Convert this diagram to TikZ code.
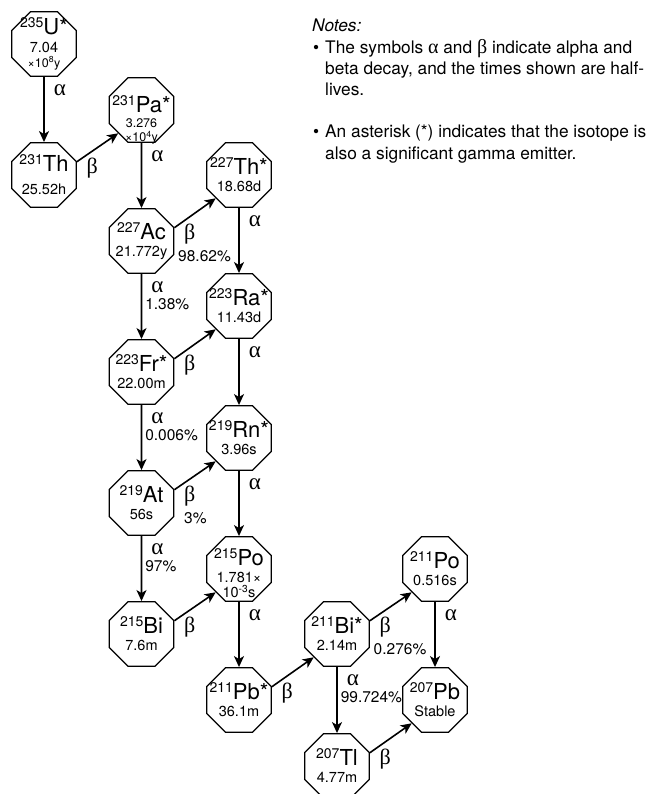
\documentclass[tikz,border=0pt]{standalone}
\usepackage{fontspec}
\setmainfont{TeX Gyre Heros}
\newfontfamily\grk{Liberation Serif}
\usetikzlibrary{arrows.meta,shapes.geometric}

\newcommand{\nuc}[2]{{\fontsize{22}{22}\selectfont\raisebox{7pt}{\fontsize{14}{14}\selectfont#1}#2}}
\newcommand{\alp}{{\grk\fontsize{23}{23}\selectfont α}}
\newcommand{\bet}{{\grk\fontsize{22}{22}\selectfont β}}
\newcommand{\sml}{\fontsize{12.5}{13}\selectfont}
\newcommand{\lift}[1]{\rule{0pt}{#1}}

\begin{document}
\begin{tikzpicture}[x=1pt,y=-1pt,
  iso/.style={draw,regular polygon,regular polygon sides=8,minimum size=70pt,
    inner sep=-14pt,line width=1.2pt,align=center,font=\fontsize{14.5}{16}\selectfont},
  decay/.style={-{Stealth[length=11pt,width=10pt,inset=3pt]},line width=1.6pt},
  lab/.style={anchor=north west,align=left,inner sep=0pt,font=\fontsize{15.5}{17}\selectfont},
  alab/.style={lab,xshift=3pt,yshift=-7pt},
  blab/.style={lab,xshift=3pt,yshift=4pt}]
\path[use as bounding box,clip] (0,0) rectangle (653,794);

% isotopes of the chain
\node[iso] (u235) at (44,44) {\nuc{235}{U*}\\[2pt] 7.04\\[-1.5pt] {\fontsize{12.5}{15}\selectfont ×10\textsuperscript{8}y}};
\node[iso] (pa231) at (141.5,110) {\lift{37pt}\nuc{231}{Pa*}\\[-1pt] {\sml 3.276}\\[-2pt] {\sml ×10\textsuperscript{4}y}};
\node[iso] (th231) at (44,175) {\nuc{231}{Th}\\[7pt] 25.52h};
\node[iso] (th227) at (239,175) {\nuc{227}{Th*}\\[1pt] 18.68d};
\node[iso] (ac227) at (141.5,241) {\nuc{227}{Ac}\\[1pt] 21.772y};
\node[iso] (ra223) at (239,306) {\nuc{223}{Ra*}\\[1pt] 11.43d};
\node[iso] (fr223) at (141.5,372) {\nuc{223}{Fr*}\\[1pt] 22.00m};
\node[iso] (rn219) at (239,438) {\nuc{219}{Rn*}\\[1pt] 3.96s};
\node[iso] (at219) at (141.5,503) {\nuc{219}{At}\\[1pt] 56s};
\node[iso] (po215) at (239,569) {\lift{25pt}\nuc{215}{Po}\\[1pt] 1.781×\\[-1pt] 10\textsuperscript{-3}s};
\node[iso] (bi215) at (141.5,634) {\nuc{215}{Bi}\\[1pt] 7.6m};
\node[iso] (po211) at (435,569) {\nuc{211}{Po}\\[1pt] 0.516s};
\node[iso] (bi211) at (337,634) {\nuc{211}{Bi*}\\[1pt] 2.14m};
\node[iso] (pb211) at (239,700) {\nuc{211}{Pb*}\\[1pt] 36.1m};
\node[iso] (pb207) at (435,700) {\nuc{207}{Pb}\\[1pt] Stable};
\node[iso] (tl207) at (337,766) {\nuc{207}{Tl}\\[1pt] 4.77m};

% decays
\draw[decay] (u235) -- (th231) node[alab,pos=0] {\hspace{6pt}\alp};
\draw[decay] (th231.22.5) -- (pa231.-135) node[blab,pos=0] {\hspace{6pt}\bet};
\draw[decay] (pa231) -- (ac227) node[alab,pos=0] {\hspace{6pt}\alp};
\draw[decay] (ac227.22.5) -- (th227.-135) node[blab,pos=0] {\hspace{6pt}\bet\\[5pt]98.62\%};
\draw[decay] (ac227) -- (fr223) node[alab,pos=0] {\hspace{6pt}\alp\\1.38\%};
\draw[decay] (th227) -- (ra223) node[alab,pos=0] {\hspace{6pt}\alp};
\draw[decay] (fr223.22.5) -- (ra223.-135) node[blab,pos=0] {\hspace{6pt}\bet};
\draw[decay] (ra223) -- (rn219) node[alab,pos=0] {\hspace{6pt}\alp};
\draw[decay] (fr223) -- (at219) node[alab,pos=0] {\hspace{6pt}\alp\\0.006\%};
\draw[decay] (at219.22.5) -- (rn219.-135) node[blab,pos=0] {\hspace{6pt}\bet\\[5pt]\hspace{6pt}3\%};
\draw[decay] (at219) -- (bi215) node[alab,pos=0] {\hspace{6pt}\alp\\97\%};
\draw[decay] (rn219) -- (po215) node[alab,pos=0] {\hspace{6pt}\alp};
\draw[decay] (bi215.22.5) -- (po215.-135) node[blab,pos=0] {\hspace{6pt}\bet};
\draw[decay] (po215) -- (pb211) node[alab,pos=0] {\hspace{6pt}\alp};
\draw[decay] (pb211.22.5) -- (bi211.-135) node[blab,pos=0] {\hspace{6pt}\bet};
\draw[decay] (bi211.22.5) -- (po211.-135) node[blab,pos=0] {\hspace{6pt}\bet\\[5pt]0.276\%};
\draw[decay] (bi211) -- (tl207) node[alab,pos=0] {\hspace{6pt}\alp\\99.724\%};
\draw[decay] (po211) -- (pb207) node[alab,pos=0] {\hspace{6pt}\alp};
\draw[decay] (tl207.22.5) -- (pb207.-135) node[blab,pos=0] {\hspace{6pt}\bet};

% notes
\node[anchor=north west,align=left,inner sep=0pt,font=\fontsize{17.3}{21.2}\selectfont] (notes) at (312,19) {\textit{Notes:}\\
\makebox[13pt][l]{\hspace{1pt}\textbullet}The symbols {\grk\fontsize{20}{21.2}\selectfont α} and {\grk\fontsize{20}{21.2}\selectfont β} indicate alpha and\\
\hspace*{13pt}beta decay, and the times shown are half-\\
\hspace*{13pt}lives.\\[21.2pt]
\makebox[13pt][l]{\hspace{1pt}\textbullet}An asterisk (*) indicates that the isotope is\\
\hspace*{13pt}also a significant gamma emitter.};
\end{tikzpicture}
\end{document}
